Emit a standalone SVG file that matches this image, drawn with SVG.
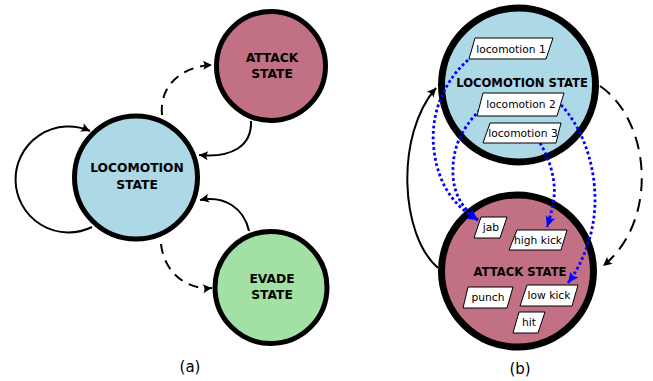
<svg xmlns="http://www.w3.org/2000/svg" width="653" height="381" viewBox="0 0 653 381">
<defs>
<style>
.t{font-family:"DejaVu Sans",Verdana,sans-serif;font-weight:bold;fill:#000;text-anchor:middle}
.s{font-family:"DejaVu Sans",Verdana,sans-serif;fill:#000;text-anchor:middle}
.loc{fill:#add8e6;stroke:#000}
.att{fill:#c17183;stroke:#000}
.eva{fill:#a3e0a3;stroke:#000}
.box{fill:#fff;stroke:#000;stroke-width:1}
.e{fill:none;stroke:#000;stroke-width:2}
.d{stroke-dasharray:10,7}
.b{fill:none;stroke:#0000ff;stroke-width:2.8;stroke-dasharray:2.8,2.6}
</style>
<marker id="ah" markerUnits="userSpaceOnUse" markerWidth="14" markerHeight="12" viewBox="-10 -6 11 12" refX="0" refY="0" orient="auto" overflow="visible">
<path d="M0,0 L-9,-4.5 C-7,-1.5 -7,1.5 -9,4.5 Z" fill="#000"/>
</marker>
<marker id="ahb" markerUnits="userSpaceOnUse" markerWidth="14" markerHeight="12" viewBox="-12 -6 13 12" refX="0" refY="0" orient="auto" overflow="visible">
<path d="M0,0 L-11,-5 C-8.5,-1.5 -8.5,1.5 -11,5 Z" fill="#0000ff"/>
</marker>
</defs>
<rect width="653" height="381" fill="#fff"/>

<!-- panel (a) nodes -->
<g id="a-locomotion">
<circle class="loc" cx="136" cy="177.5" r="61.5" stroke-width="5"/>
<text class="t" x="137" y="172" font-size="12.3">LOCOMOTION</text>
<text class="t" x="137" y="189" font-size="12.3">STATE</text>
</g>
<g id="a-attack">
<circle class="att" cx="271" cy="66" r="54.5" stroke-width="5"/>
<text class="t" x="272" y="61.5" font-size="12.3">ATTACK</text>
<text class="t" x="272" y="78" font-size="12.3">STATE</text>
</g>
<g id="a-evade">
<circle class="eva" cx="271" cy="287.5" r="56" stroke-width="5"/>
<text class="t" x="272" y="282.5" font-size="12.3">EVADE</text>
<text class="t" x="272" y="299" font-size="12.3">STATE</text>
</g>

<!-- panel (b) circle nodes -->
<g id="b-locomotion">
<circle class="loc" cx="518.5" cy="85" r="77" stroke-width="7"/>
<text class="t" x="522" y="86.5" font-size="11.6">LOCOMOTION STATE</text>
</g>
<g id="b-attack">
<circle class="att" cx="517.5" cy="271" r="76" stroke-width="7"/>
<text class="t" x="520" y="276" font-size="11.6">ATTACK STATE</text>
</g>

<!-- connectors -->
<g id="connectors">
<path class="e" d="M92,227 A53,53 0 1 1 90,131" marker-end="url(#ah)"/>
<path class="e" d="M251,121 C252,146 232,158 199,155" marker-end="url(#ah)"/>
<path class="e" d="M249,231 C244,208 224,195 200,200" marker-end="url(#ah)"/>
<path class="e d" d="M162,115 C159,84 184,66 212,65" marker-end="url(#ah)"/>
<path class="e d" d="M161,244 C164,272 186,290 212,288" marker-end="url(#ah)"/>

<path class="e" stroke-width="2.4" d="M438,268 C400,235 395,135 436,88" marker-end="url(#ah)"/>
<path class="e" stroke-width="2.8" stroke-dasharray="13,8" d="M600,86 C650,120 660,220 603,266" marker-end="url(#ah)"/>

<path class="b" d="M468,60 C440,85 430,120 434,150 C438,185 455,207 478,220" marker-end="url(#ahb)"/>
<path class="b" d="M480,110 C460,130 452,150 453,175 C454,195 463,209 478,220" marker-end="url(#ahb)"/>
<path class="b" d="M540,143 C550,160 556,180 554,198 C552,210 550,218 547,227" marker-end="url(#ahb)"/>
<path class="b" d="M561,105 C580,125 595,160 595,200 C595,230 585,260 568,283" marker-end="url(#ahb)"/>
</g>

<!-- boxes -->
<g id="box-loc1"><path class="box" d="M475,38 L553,38 L546,59 L469,59 Z"/><text class="s" x="511" y="52.5" font-size="10.7">locomotion 1</text></g>
<g id="box-loc2"><path class="box" d="M483,93 L564,93 L557,116 L477,116 Z"/><text class="s" x="521" y="108" font-size="10.7">locomotion 2</text></g>
<g id="box-loc3"><path class="box" d="M490,123 L561,123 L556,143 L483,143 Z"/><text class="s" x="523" y="137" font-size="10.7">locomotion 3</text></g>
<g id="box-jab"><path class="box" d="M481,217 L507,217 L500,238 L474,238 Z"/><text class="s" x="491" y="231" font-size="10.7">jab</text></g>
<g id="box-highkick"><path class="box" d="M517,230 L567,230 L561,250 L509,250 Z"/><text class="s" x="538" y="243.5" font-size="10.7">high kick</text></g>
<g id="box-punch"><path class="box" d="M468,287 L513,287 L507,308 L463,308 Z"/><text class="s" x="488" y="301" font-size="10.7">punch</text></g>
<g id="box-lowkick"><path class="box" d="M527,285 L578,285 L572,306 L520,306 Z"/><text class="s" x="549" y="299" font-size="10.7">low kick</text></g>
<g id="box-hit"><path class="box" d="M519,312 L545,312 L538,333 L513,333 Z"/><text class="s" x="529" y="326" font-size="10.7">hit</text></g>

<text class="s" x="190" y="372" font-size="15">(a)</text>
<text class="s" x="520" y="374" font-size="15">(b)</text>
</svg>
